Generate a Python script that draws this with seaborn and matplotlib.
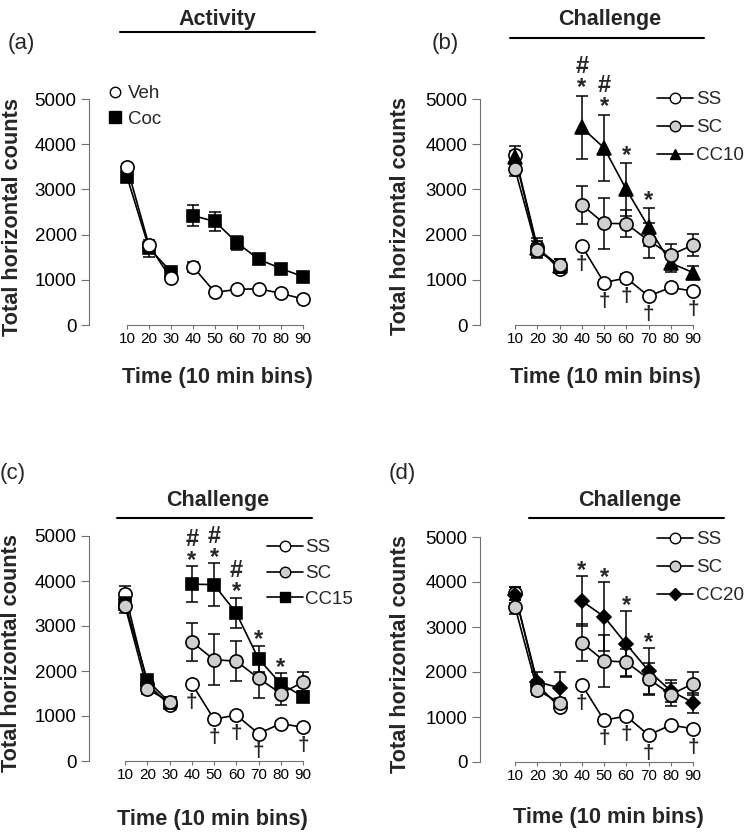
import matplotlib
matplotlib.use("Agg")
import matplotlib.pyplot as plt
from matplotlib.lines import Line2D
import pandas as pd
import seaborn as sns

# ---------------- data ----------------
times = [10, 20, 30, 40, 50, 60, 70, 80, 90]
ytick_values = [0, 1000, 2000, 3000, 4000, 5000]

# (a) Activity
a_veh = [3500, 1760, 1030, 1290, 720, 790, 800, 700, 575]
a_veh_err = [60, 60, 50, 110, 60, 50, 50, 40, 40]
a_coc = [3280, 1700, 1180, 2420, 2290, 1820, 1450, 1250, 1070]
a_coc_err = [80, 190, 100, 230, 200, 150, 80, 60, 60]

# (b) Challenge, CC10
b_ss = [3760, 1730, 1230, 1750, 940, 1040, 640, 830, 750]
b_ss_err = [80, 120, 70, 60, 60, 80, 60, 60, 60]
b_sc = [3450, 1650, 1320, 2660, 2250, 2240, 1870, 1550, 1770]
b_sc_err = [150, 150, 150, 420, 570, 300, 380, 250, 250]
b_cc = [3720, 1700, 1300, 4370, 3920, 3000, 2170, 1370, 1160]
b_cc_err = [250, 220, 150, 700, 730, 580, 420, 200, 150]
b_star = [40, 50, 60, 70]
b_hash = [40, 50]
b_dagger = [40, 50, 60, 70, 90]

# (c) Challenge, CC15
c_ss = [3720, 1720, 1240, 1720, 930, 1020, 610, 830, 750]
c_ss_err = [180, 100, 70, 60, 60, 80, 60, 60, 60]
c_sc = [3450, 1600, 1320, 2650, 2250, 2220, 1840, 1500, 1750]
c_sc_err = [150, 100, 100, 420, 570, 440, 430, 250, 230]
c_cc = [3500, 1800, 1300, 3930, 3920, 3290, 2270, 1720, 1430]
c_cc_err = [150, 100, 100, 400, 470, 340, 290, 230, 120]
c_star = [40, 50, 60, 70, 80]
c_hash = [40, 50, 60]
c_dagger = [40, 50, 60, 70, 90]

# (d) Challenge, CC20
d_ss = [3750, 1720, 1220, 1720, 930, 1020, 600, 820, 740]
d_ss_err = [150, 100, 70, 60, 60, 80, 60, 60, 60]
d_sc = [3450, 1600, 1320, 2650, 2250, 2220, 1850, 1500, 1740]
d_sc_err = [150, 100, 100, 410, 580, 300, 350, 250, 250]
d_cc = [3720, 1780, 1650, 3580, 3230, 2620, 2030, 1580, 1320]
d_cc_err = [180, 230, 340, 560, 760, 740, 510, 250, 220]
d_star = [40, 50, 60, 70]
d_hash = []
d_dagger = [40, 50, 60, 70, 90]

# ---------------- style ----------------
sns.set_theme(style="white")
plt.rcParams["font.family"] = ["Liberation Sans", "DejaVu Sans"]
plt.rcParams["axes.linewidth"] = 0.8

W, H = 750, 834
fig = plt.figure(figsize=(W / 100, H / 100), dpi=100)
fig.patch.set_facecolor("white")


def fx(px):
    return px / W


def fy(py):
    return 1 - py / H


AXIS_GREY = "#707070"
GREY_FILL = "#cfcfcf"
LABEL_FS = 15.7

STY = {
    "open": dict(marker="o", markerfacecolor="white", ms=9.5),
    "grey": dict(marker="o", markerfacecolor=GREY_FILL, ms=9.5),
    "square": dict(marker="s", markerfacecolor="black", ms=9),
    "tri": dict(marker="^", markerfacecolor="black", ms=9.5),
    "diamond": dict(marker="D", markerfacecolor="black", ms=7.5),
}


def make_ax(yaxis_px, x10_px, x90_px, y5000_px, y0_px, xmax=95):
    per = (x90_px - x10_px) / 80.0
    xmin = 10 - (x10_px - yaxis_px) / per
    right_px = x10_px + (xmax - 10) * per
    ax = fig.add_axes([fx(yaxis_px), fy(y0_px), (right_px - yaxis_px) / W,
                       (y0_px - y5000_px) / H])
    ax.set_facecolor("none")
    ax.set_xlim(xmin, xmax)
    ax.set_ylim(0, 5000)
    for s in ("top", "right"):
        ax.spines[s].set_visible(False)
    ax.spines["left"].set_bounds(0, 5000)
    ax.spines["bottom"].set_bounds(10, 90)
    for s in ("left", "bottom"):
        ax.spines[s].set_color(AXIS_GREY)
        ax.spines[s].set_linewidth(0.8)
    ax.set_xticks(times)
    ax.set_xticklabels([str(t) for t in times])
    ax.set_yticks(ytick_values)
    ax.set_yticklabels([str(v) for v in ytick_values])
    ax.tick_params(axis="y", which="major", left=True, length=6, width=0.8,
                   color=AXIS_GREY, labelsize=13.5, pad=3, labelcolor="black")
    ax.tick_params(axis="x", which="major", bottom=True, length=3, width=0.8,
                   color=AXIS_GREY, labelsize=11, pad=2, labelcolor="black")
    ax.grid(False)
    return ax


def draw_series(ax, vals, errs, style, z):
    # lines in two segments (habituation 10-30, challenge 40-90)
    segs = [(0, 3), (3, 9)]
    for a, b in segs:
        df = pd.DataFrame({"time": times[a:b], "value": vals[a:b]})
        sns.lineplot(data=df, x="time", y="value", ax=ax, color="black",
                     lw=1.2, errorbar=None, markeredgecolor="black",
                     markeredgewidth=1.2, zorder=z, clip_on=False,
                     marker=style["marker"], markersize=style["ms"],
                     markerfacecolor=style["markerfacecolor"])
    ax.errorbar(times, vals, yerr=errs, fmt="none", ecolor="black",
                elinewidth=1.1, capsize=4.5, capthick=1.1, zorder=z - 0.5,
                clip_on=False)


STAR_FS = 17
# asterisk centre sits ~0.79 em above the bottom of its text box
STAR_CENTRE_PT = 0.79 * STAR_FS


def annotate(ax, stars, hashes, daggers, cc, cc_err, ss, star_gap_px,
             dag_pad=410):
    for t in stars:
        i = times.index(t)
        top = cc[i] + cc_err[i]
        txt = "#\n*" if t in hashes else "*"
        off_pt = star_gap_px * 0.72 - STAR_CENTRE_PT
        ax.annotate(txt, xy=(t, top), xytext=(0, off_pt),
                    textcoords="offset points", ha="center", va="bottom",
                    fontsize=STAR_FS, fontweight="bold", linespacing=0.9,
                    multialignment="center", annotation_clip=False)
    for t in daggers:
        i = times.index(t)
        ax.text(t, ss[i] - dag_pad, "\u2020", ha="center", va="center",
                fontsize=15, fontweight="bold", clip_on=False)


def legend3(ax, labels, styles, left_px, top_px, tpad, spacing):
    handles = []
    for st in styles:
        handles.append(Line2D([], [], color="black", lw=1.2, marker=st["marker"],
                              markerfacecolor=st["markerfacecolor"],
                              markeredgecolor="black", markeredgewidth=1.0,
                              markersize=st["ms"] * 0.8))
    ax.legend(handles, labels, loc="upper left",
              bbox_to_anchor=(fx(left_px), fy(top_px)),
              bbox_transform=fig.transFigure, frameon=False, fontsize=13.5,
              handlelength=1.9, handletextpad=tpad, labelspacing=spacing,
              borderpad=0, borderaxespad=0)


def ylabel(ax, x_px, y_px):
    ax.set_ylabel("Total horizontal counts", fontsize=LABEL_FS,
                  fontweight="bold", va="center", ha="center")
    ax.yaxis.set_label_coords(fx(x_px), fy(y_px), transform=fig.transFigure)


def xlabel(ax, x_px, y_px):
    ax.set_xlabel("Time (10 min bins)", fontsize=LABEL_FS, fontweight="bold",
                  va="center", ha="center")
    ax.xaxis.set_label_coords(fx(x_px), fy(y_px), transform=fig.transFigure)


def header(letter, lx, ly, title, tx, ty, x0, x1, ly_line):
    fig.text(fx(lx), fy(ly), letter, fontsize=16, ha="center", va="center")
    fig.text(fx(tx), fy(ty), title, fontsize=15.5, fontweight="bold",
             ha="center", va="center")
    fig.add_artist(Line2D([fx(x0), fx(x1)], [fy(ly_line), fy(ly_line)],
                          color="black", lw=1.5, transform=fig.transFigure))


# ---------------- (a) ----------------
ax_a = make_ax(89, 127, 303, 99, 325)
draw_series(ax_a, a_coc, a_coc_err, STY["square"], 4)
draw_series(ax_a, a_veh, a_veh_err, STY["open"], 5)
ha = [Line2D([], [], ls="none", marker="o", markerfacecolor="white",
             markeredgecolor="black", markeredgewidth=1.0, markersize=7.5),
      Line2D([], [], ls="none", marker="s", markerfacecolor="black",
             markeredgecolor="black", markersize=9)]
ax_a.legend(ha, ["Veh", "Coc"], loc="upper left",
            bbox_to_anchor=(fx(108), fy(85)), bbox_transform=fig.transFigure,
            frameon=False, fontsize=13.5, handlelength=0.8, handletextpad=0.25,
            labelspacing=0.45, borderpad=0, borderaxespad=0)
ylabel(ax_a, 13, 217)
xlabel(ax_a, 217, 377)
header("(a)", 21, 43, "Activity", 217, 20, 120, 315, 32)

# ---------------- (b) ----------------
ax_b = make_ax(480, 515, 693, 99, 325)
draw_series(ax_b, b_ss, b_ss_err, STY["open"], 4)
draw_series(ax_b, b_cc, b_cc_err, STY["tri"], 5)
draw_series(ax_b, b_sc, b_sc_err, STY["grey"], 6)
annotate(ax_b, b_star, b_hash, b_dagger, b_cc, b_cc_err, b_ss, star_gap_px=15)
legend3(ax_b, ["SS", "SC", "CC10"], [STY["open"], STY["grey"], STY["tri"]],
        657, 91, 0.2, 0.58)
ylabel(ax_b, 401, 216)
xlabel(ax_b, 605, 377)
header("(b)", 445, 44, "Challenge", 610, 20, 510, 704, 38)

# ---------------- (c) ----------------
ax_c = make_ax(89, 125, 303, 536, 761)
draw_series(ax_c, c_ss, c_ss_err, STY["open"], 4)
draw_series(ax_c, c_cc, c_cc_err, STY["square"], 5)
draw_series(ax_c, c_sc, c_sc_err, STY["grey"], 6)
annotate(ax_c, c_star, c_hash, c_dagger, c_cc, c_cc_err, c_ss, star_gap_px=13)
legend3(ax_c, ["SS", "SC", "CC15"], [STY["open"], STY["grey"], STY["square"]],
        267, 539, 0.15, 0.47)
ylabel(ax_c, 12, 653)
xlabel(ax_c, 212, 819)
header("(c)", 13, 474, "Challenge", 218, 500, 117, 312, 518)

# ---------------- (d) ----------------
ax_d = make_ax(480, 515, 693, 537, 762)
draw_series(ax_d, d_ss, d_ss_err, STY["open"], 4)
draw_series(ax_d, d_cc, d_cc_err, STY["diamond"], 5)
draw_series(ax_d, d_sc, d_sc_err, STY["grey"], 6)
annotate(ax_d, d_star, d_hash, d_dagger, d_cc, d_cc_err, d_ss, star_gap_px=12)
legend3(ax_d, ["SS", "SC", "CC20"], [STY["open"], STY["grey"], STY["diamond"]],
        657, 531, 0.2, 0.58)
ylabel(ax_d, 401, 654)
xlabel(ax_d, 608, 817)
header("(d)", 402, 474, "Challenge", 630, 500, 529, 724, 518)

fig.savefig("out.png", dpi=100, facecolor="white")
